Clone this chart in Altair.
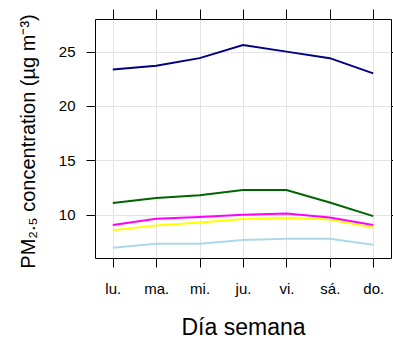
import altair as alt
import pandas as pd

days = ["lu.", "ma.", "mi.", "ju.", "vi.", "sá.", "do."]
navy_vals = [23.35, 23.7, 24.4, 25.6, 25.0, 24.4, 23.0]
green_vals = [11.07, 11.53, 11.8, 12.27, 12.27, 11.13, 9.87]
magenta_vals = [9.05, 9.62, 9.78, 10.0, 10.12, 9.75, 9.05]
yellow_vals = [8.58, 9.02, 9.29, 9.6, 9.73, 9.57, 8.82]
lightblue_vals = [6.97, 7.33, 7.33, 7.67, 7.79, 7.79, 7.24]

series_names = ["A", "B", "C", "D", "E"]
series_colors = ["#ADD8E6", "#FFFF00", "#FF00FF", "#006400", "#000080"]
series_vals = [lightblue_vals, yellow_vals, magenta_vals, green_vals, navy_vals]

rows = []
for name, vals in zip(series_names, series_vals):
    for d, v in zip(days, vals):
        rows.append({"day": d, "value": v, "series": name})
df = pd.DataFrame(rows)

font = "Liberation Sans"
xscale = alt.Scale(domain=days, padding=0.41)
yscale = alt.Scale(domain=[6.02, 28.0], nice=False, zero=False)

lines = alt.Chart(df).mark_line(strokeWidth=2).encode(
    x=alt.X("day:N", scale=xscale, sort=days,
            axis=alt.Axis(orient="bottom", title="Día semana", labelAngle=0,
                          tickSize=9, labelPadding=26, labelBaseline="alphabetic",
                          labelFontSize=15, titleFontSize=23, titleFontWeight="normal",
                          titleX=148, titleY=76, titleBaseline="alphabetic", titleAlign="center",
                          grid=True, gridColor="#e3e3e3", gridWidth=1, domain=False)),
    y=alt.Y("value:Q", scale=yscale,
            axis=alt.Axis(orient="left", title="PM₂.₅ concentration (µg m⁻³)",
                          values=[10, 15, 20, 25], tickSize=9, labelPadding=11,
                          labelFontSize=15, titleFontSize=20, titleFontWeight="normal",
                          titleX=-67, titleY=122, titleAngle=-90, titleAlign="center",
                          titleBaseline="middle",
                          grid=True, gridColor="#e3e3e3", gridWidth=1, domain=False)),
    color=alt.Color("series:N", scale=alt.Scale(domain=series_names, range=series_colors),
                    legend=None),
    order=alt.Order("series:N"),
)

frame_axes = alt.Chart(df).mark_line(opacity=0).encode(
    x=alt.X("day:N", scale=xscale, sort=days,
            axis=alt.Axis(orient="top", title=None, labels=False, tickSize=10,
                          grid=False, domain=False)),
    y=alt.Y("value:Q", scale=yscale,
            axis=alt.Axis(orient="right", title=None, labels=False, tickSize=9,
                          values=[10, 15, 20, 25], grid=False, domain=False)),
    detail="series:N",
)

chart = alt.layer(lines, frame_axes).resolve_axis(
    x="independent", y="independent"
).properties(
    width=296, height=239,
    autosize=alt.AutoSizeParams(type="none"),
    padding={"left": 95, "top": 19, "right": 2, "bottom": 82},
).configure_view(
    stroke="black", strokeWidth=1
).configure_axis(
    labelFont=font, titleFont=font, labelColor="black", titleColor="black",
    tickColor="black", tickWidth=1
)

chart.save("out.html", embed_options={"renderer": "svg", "actions": False})
